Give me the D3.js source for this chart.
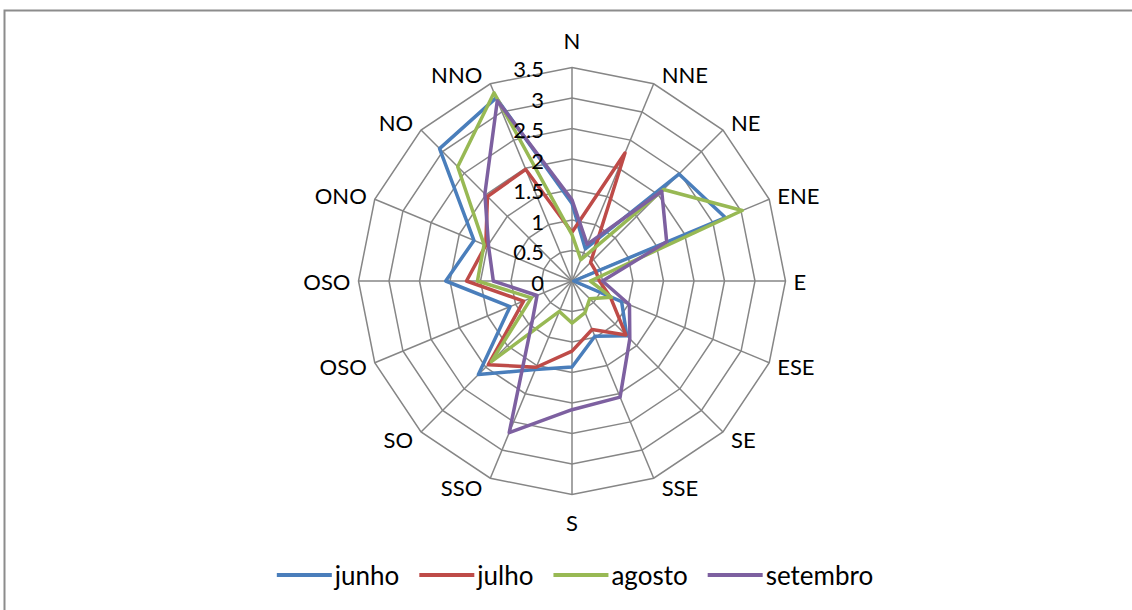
<!DOCTYPE html>
<html>
<head>
<meta charset="utf-8">
<script src="https://cdn.jsdelivr.net/npm/d3@7"></script>
<style>
  html, body { margin: 0; padding: 0; background: #ffffff; }
  svg { display: block; }
  text { font-family: Lato, "Open Sans", sans-serif; fill: #000; }
</style>
</head>
<body>
<svg id="chart" width="1132" height="610"></svg>
<script>
// Wind directions, clockwise from north
const directions = ["N", "NNE", "NE", "ENE", "E", "ESE", "SE", "SSE",
                    "S", "SSO", "SO", "OSO", "OSO", "ONO", "NO", "NNO"];

// Radial axis ticks
const tickValues = [0, 0.5, 1, 1.5, 2, 2.5, 3, 3.5];
const tickLabels = ["0", "0.5", "1", "1.5", "2", "2.5", "3", "3.5"];

// Monthly values per direction
const junho    = [1.27, 0.57, 2.48, 2.72, 0.03, 0.88, 1.27, 0.98, 1.41, 1.57, 2.17, 1.10, 2.07, 1.74, 3.07, 3.25];
const julho    = [0.80, 2.27, 0.43, 0.42, 0.45, 0.68, 1.25, 0.86, 1.15, 1.53, 1.94, 0.86, 1.73, 1.53, 1.96, 1.98];
const agosto   = [0.76, 0.38, 2.12, 3.02, 0.30, 0.70, 0.41, 0.56, 0.69, 0.54, 1.87, 0.72, 1.55, 1.56, 2.65, 3.34];
const setembro = [1.33, 0.65, 2.08, 1.68, 0.50, 1.02, 1.34, 2.06, 2.11, 2.69, 0.92, 0.62, 1.29, 1.48, 2.02, 3.20];

const seriesNames  = ["junho", "julho", "agosto", "setembro"];
const seriesValues = [junho, julho, agosto, setembro];
const seriesColors = ["#4a7ebb", "#be4b48", "#98b954", "#7d60a0"];

const W = 1132, H = 610;
const cx = 572, cy = 281, outerR = 213.5;

const svg = d3.select("#chart");

// chart area frame
svg.append("rect")
  .attr("x", 4.5).attr("y", 10.5)
  .attr("width", W + 20).attr("height", H + 20)
  .attr("fill", "none").attr("stroke", "#8c8c8c").attr("stroke-width", 2);

const r = d3.scaleLinear().domain([0, 3.5]).range([0, outerR]);
const angle = d3.scaleLinear().domain([0, directions.length]).range([0, 2 * Math.PI]);

const g = svg.append("g").attr("transform", `translate(${cx},${cy})`);

const pt = (i, v) => {
  const a = angle(i);
  return [r(v) * Math.sin(a), -r(v) * Math.cos(a)];
};

// polygonal grid rings
const gridColor = "#868686";
g.selectAll("path.ring")
  .data(tickValues.filter(t => t > 0))
  .join("path")
  .attr("class", "ring")
  .attr("d", t => d3.line()(directions.map((d, i) => pt(i, t))) + "Z")
  .attr("fill", "none").attr("stroke", gridColor).attr("stroke-width", 1.5);

// spokes
g.selectAll("line.spoke")
  .data(directions)
  .join("line")
  .attr("class", "spoke")
  .attr("x1", 0).attr("y1", 0)
  .attr("x2", (d, i) => pt(i, 3.5)[0])
  .attr("y2", (d, i) => pt(i, 3.5)[1])
  .attr("stroke", gridColor).attr("stroke-width", 1.5);

// series polygons
const radarLine = d3.line().curve(d3.curveLinearClosed);
g.selectAll("path.series")
  .data(seriesValues)
  .join("path")
  .attr("class", "series")
  .attr("d", vals => radarLine(vals.map((v, i) => pt(i, v))))
  .attr("fill", "none")
  .attr("stroke", (d, i) => seriesColors[i])
  .attr("stroke-width", 3.5)
  .attr("stroke-linejoin", "round");

// radial tick labels along the north spoke
g.selectAll("text.tick")
  .data(tickValues)
  .join("text")
  .attr("class", "tick")
  .attr("x", -28)
  .attr("y", t => -r(t) + 1)
  .attr("text-anchor", "end")
  .attr("dominant-baseline", "central")
  .attr("font-size", 22)
  .text((t, i) => tickLabels[i]);

// direction labels outside the outer ring
g.selectAll("text.dir")
  .data(directions)
  .join("text")
  .attr("class", "dir")
  .each(function (d, i) {
    const a = angle(i);
    const s = Math.sin(a), c = Math.cos(a);
    const [vx, vy] = pt(i, 3.5);
    let anchor = "middle", dx = 0, dy;
    if (Math.abs(s) > 0.1) {
      anchor = s > 0 ? "start" : "end";
      dx = s > 0 ? 8 : -8;
      dy = -c * 10;
    } else {
      dy = -c * 27.5;
    }
    d3.select(this)
      .attr("x", vx + dx)
      .attr("y", vy + dy)
      .attr("text-anchor", anchor)
      .attr("dominant-baseline", "central")
      .attr("font-size", 22)
      .text(d);
  });

// legend
const legend = svg.append("g").attr("transform", "translate(0,575)");
const items = legend.selectAll("g.item")
  .data(seriesNames)
  .join("g")
  .attr("class", "item");
items.append("line")
  .attr("x1", 0).attr("x2", 55).attr("y1", 0).attr("y2", 0)
  .attr("stroke", (d, i) => seriesColors[i])
  .attr("stroke-width", 4);
items.append("text")
  .attr("x", 58).attr("y", 0)
  .attr("dominant-baseline", "central")
  .attr("font-size", 26)
  .text(d => d);

let widths = [];
items.each(function () {
  widths.push(58 + d3.select(this).select("text").node().getComputedTextLength());
});
const gap = 20;
const total = d3.sum(widths) + gap * (widths.length - 1);
let x0 = 575 - total / 2;
items.attr("transform", (d, i) => {
  const x = x0;
  x0 += widths[i] + gap;
  return `translate(${x},0)`;
});
</script>
</body>
</html>
